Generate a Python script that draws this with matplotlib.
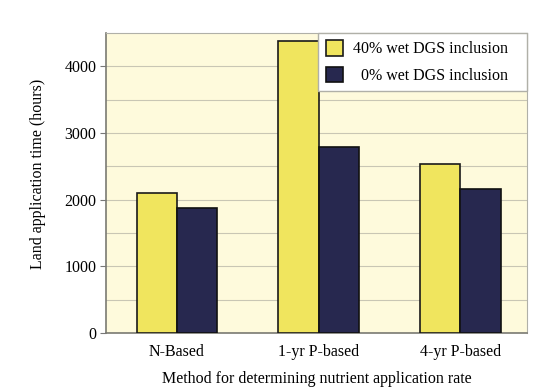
import numpy as np
import matplotlib
matplotlib.use('Agg')
import matplotlib.pyplot as plt
from matplotlib.patches import Patch

methods = ['N-Based', '1-yr P-based', '4-yr P-based']
wet40 = [2100, 4380, 2535]
wet0 = [1875, 2790, 2160]
series_labels = ['40% wet DGS inclusion   ', '  0% wet DGS inclusion   ']

yellow = '#f0e55e'
navy = '#27284f'

plt.rcParams['font.family'] = ['Liberation Serif', 'DejaVu Serif']

fig = plt.figure(figsize=(5.5, 3.9), dpi=100)
ax = fig.add_axes([0.193, 0.146, 0.765, 0.769])
ax.set_facecolor('#fefadc')

x = np.arange(len(methods))
w = 0.285
ax.bar(x - w/2, wet40, w, color=yellow, edgecolor='#1a1a1a', linewidth=1.2, zorder=3)
ax.bar(x + w/2, wet0, w, color=navy, edgecolor='#111111', linewidth=1.2, zorder=3)

ax.set_ylim(0, 4500)
ax.set_xlim(-0.5, 2.47)
ax.set_yticks([0, 1000, 2000, 3000, 4000])
ax.set_yticks(np.arange(500, 4500, 1000), minor=True)
ax.grid(axis='y', which='both', color='#c9c6b4', linewidth=0.8, zorder=0)
ax.set_xticks(x)
ax.set_xticklabels(methods, fontsize=11.5)
ax.tick_params(axis='x', length=0, pad=8)
ax.tick_params(axis='y', which='major', length=4, color='#777777', labelsize=11.5, pad=3)
ax.tick_params(axis='y', which='minor', length=0)

for s in ['left', 'bottom']:
    ax.spines[s].set_color('#7a7a72')
    ax.spines[s].set_linewidth(1.2)
for s in ['top', 'right']:
    ax.spines[s].set_color('#b0b0a8')
    ax.spines[s].set_linewidth(0.8)

ax.set_ylabel('Land application time (hours)', fontsize=11.5)
ax.yaxis.set_label_coords(-0.143, 0.53)
ax.set_xlabel('Method for determining nutrient application rate', fontsize=11.5)
ax.xaxis.set_label_coords(0.5, -0.125)

handles = [Patch(facecolor=yellow, edgecolor='#1a1a1a', linewidth=1.2),
           Patch(facecolor=navy, edgecolor='#111111', linewidth=1.2)]
leg = ax.legend(handles, series_labels, loc='upper right', bbox_to_anchor=(1.0, 1.0),
                fontsize=11.5, frameon=True, fancybox=False, borderaxespad=0,
                handlelength=1.1, handleheight=1.1, handletextpad=0.6,
                labelspacing=0.6, borderpad=0.45)
leg.get_frame().set_edgecolor('#b0b0a8')
leg.get_frame().set_facecolor('white')
leg.get_frame().set_alpha(1)
leg.set_zorder(5)

fig.savefig('out.png', dpi=100)
